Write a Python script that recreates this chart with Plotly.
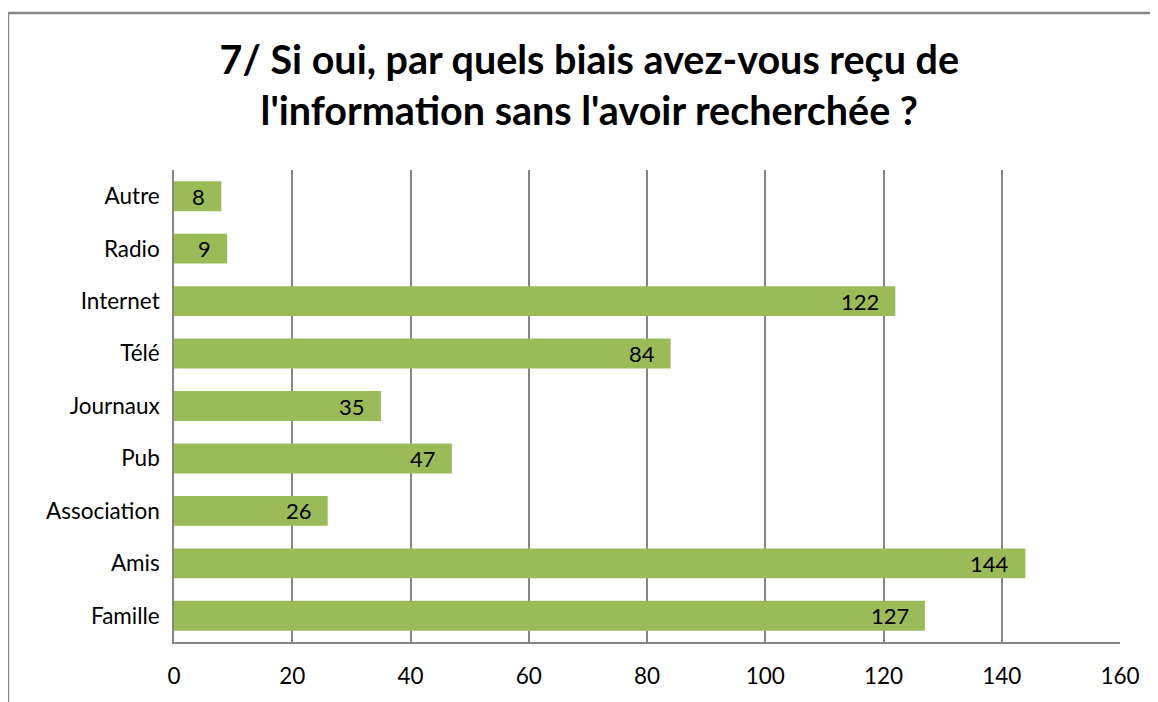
import plotly.graph_objects as go

categories = ["Famille", "Amis", "Association", "Pub", "Journaux", "Télé", "Internet", "Radio", "Autre"]
counts = [127, 144, 26, 47, 35, 84, 122, 9, 8]
x_ticks = [0, 20, 40, 60, 80, 100, 120, 140, 160]

title_text = "7/ Si oui, par quels biais avez-vous reçu de<br>l'information sans l'avoir recherchée ?"

font_family = "Lato, Open Sans, Liberation Sans, sans-serif"

fig = go.Figure(
    go.Bar(
        y=categories,
        x=counts,
        orientation="h",
        marker=dict(color="#9BBB59", line=dict(width=0)),
        width=0.57,
        hoverinfo="x+y",
    )
)

# value labels sit inside the bar end, with Excel-like padding
for cat, val in zip(categories, counts):
    fig.add_annotation(
        x=val,
        y=cat,
        text=str(val),
        showarrow=False,
        xanchor="right",
        yanchor="middle",
        xshift=-14,
        font=dict(size=22, color="#000000", family=font_family),
    )

# the page adds an 8px body margin, so margins are shifted to compensate
fig.update_layout(
    width=1158,
    height=702,
    paper_bgcolor="white",
    plot_bgcolor="white",
    margin=dict(l=166, r=46, t=162, b=68),
    font=dict(family=font_family, size=22, color="#000000"),
    title=dict(
        text=title_text,
        x=0.502,
        xanchor="center",
        y=0.906,
        yanchor="middle",
        font=dict(size=39.5, family=font_family, weight="bold"),
    ),
    showlegend=False,
    xaxis=dict(
        range=[0, 160],
        tickvals=x_ticks,
        showgrid=True,
        gridcolor="#868686",
        gridwidth=1.5,
        showline=True,
        linecolor="#868686",
        linewidth=1.5,
        zeroline=False,
        ticks="",
        tickfont=dict(size=22.5),
        ticklabelstandoff=13,
    ),
    yaxis=dict(
        categoryorder="array",
        categoryarray=categories,
        showgrid=False,
        showline=True,
        linecolor="#868686",
        linewidth=1.5,
        ticks="",
        tickfont=dict(size=22.5),
        ticklabelstandoff=8,
    ),
    shapes=[
        dict(
            type="rect",
            xref="paper",
            yref="paper",
            x0=-0.1755,
            x1=1.2,
            y0=-0.3,
            y1=1.3326,
            line=dict(color="#868686", width=2.5),
            fillcolor="rgba(0,0,0,0)",
            layer="below",
        )
    ],
)

fig.write_html("out.html")
